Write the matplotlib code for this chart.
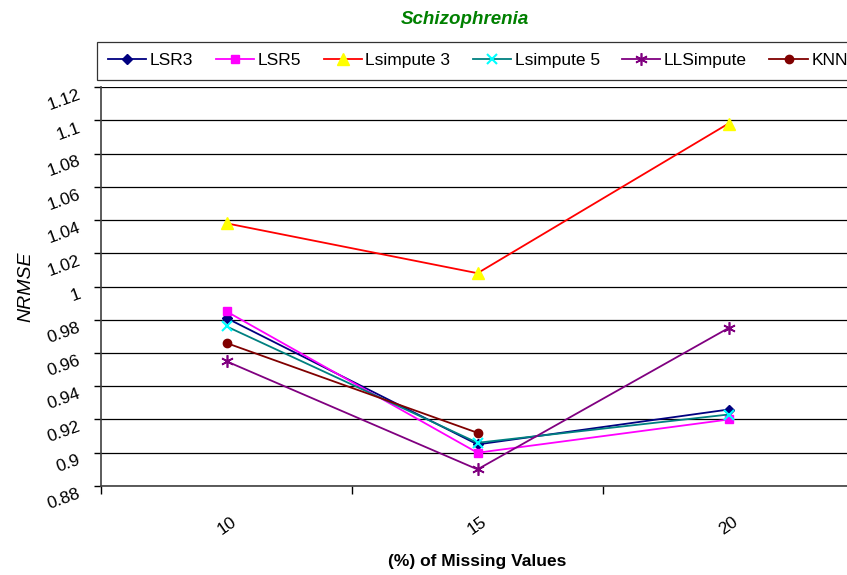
import matplotlib
matplotlib.use("Agg")
import matplotlib.pyplot as plt
import numpy as np

plt.rcParams['font.family'] = ['Liberation Sans Narrow', 'Liberation Sans', 'DejaVu Sans']

# data
categories = ["10", "15", "20"]
lsr3 = [0.981, 0.905, 0.926]
lsr5 = [0.985, 0.900, 0.920]
lsimpute3 = [1.038, 1.008, 1.098]
lsimpute5 = [0.976, 0.906, 0.923]
llsimpute = [0.955, 0.890, 0.975]
knn = [0.966, 0.912, np.nan]
yticks = [0.88, 0.9, 0.92, 0.94, 0.96, 0.98, 1, 1.02, 1.04, 1.06, 1.08, 1.1, 1.12]

series = [
    ("LSR3", lsr3, dict(color="#000080", marker="D", mfc="#000080", mec="#000080", ms=5)),
    ("LSR5", lsr5, dict(color="#FF00FF", marker="s", mfc="#FF00FF", mec="#FF00FF", ms=6)),
    ("Lsimpute 3", lsimpute3, dict(color="#FF0000", marker="^", mfc="#FFFF00", mec="#FFFF00", ms=8)),
    ("Lsimpute 5", lsimpute5, dict(color="#008080", marker="x", mfc="#00FFFF", mec="#00FFFF", ms=7, mew=1.5)),
    ("LLSimpute", llsimpute, dict(color="#800080", marker=(6, 2, 0), mfc="#800080", mec="#800080", ms=9, mew=1.2)),
    ("KNN", knn, dict(color="#800000", marker="o", mfc="#800000", mec="#800000", ms=6)),
]

fig = plt.figure(figsize=(8.47, 5.75), dpi=100)
ax = fig.add_axes([101 / 847, 89 / 575, 753 / 847, 399 / 575])

x = np.arange(len(categories))
for name, vals, style in series:
    ax.plot(x, vals, lw=1.3, label=name, **style)

ax.set_xlim(-0.5, len(categories) - 0.5)
ax.set_ylim(0.88, 1.12)
ax.set_yticks(yticks)
ax.set_yticklabels([("%g" % v) for v in yticks], rotation=20, ha="right", va="top",
                   rotation_mode="anchor", fontsize=12.5)
ax.yaxis.grid(True, color="black", lw=0.9)
ax.set_axisbelow(True)

# tick marks on category boundaries, labels on centres
ax.set_xticks(np.arange(len(categories) + 1) - 0.5)
ax.set_xticklabels([])
ax.set_xticks(x, minor=True)
ax.set_xticklabels(categories, minor=True, rotation=35, fontsize=12.5)
ax.tick_params(axis="x", which="minor", length=0, pad=20)
ax.tick_params(axis="x", which="major", length=6, direction="out", width=1)
ax.tick_params(axis="y", length=5, direction="out", width=1, pad=12)

for side in ["top", "right"]:
    ax.spines[side].set_visible(False)
for side in ["left", "bottom"]:
    ax.spines[side].set_color("#404040")
    ax.spines[side].set_linewidth(1.2)

ax.set_xlabel("(%) of Missing Values", fontsize=12.5, fontweight="bold", labelpad=12)
ax.set_ylabel("NRMSE", fontsize=14, style="italic", labelpad=8)

fig.text(465 / 847, 1 - 19 / 575, "Schizophrenia", color="#008000", fontsize=13.5,
         fontweight="bold", style="italic", ha="center", va="center")

leg = fig.legend(loc="upper left", bbox_to_anchor=(97 / 847, 1 - 42 / 575), ncol=6,
                 fontsize=12.5, frameon=True, fancybox=False, edgecolor="black",
                 handlelength=2.2, columnspacing=1.3, handletextpad=0.2,
                 borderpad=0.65, borderaxespad=0)
leg.get_frame().set_linewidth(0.9)

fig.savefig("out.png", dpi=100)
